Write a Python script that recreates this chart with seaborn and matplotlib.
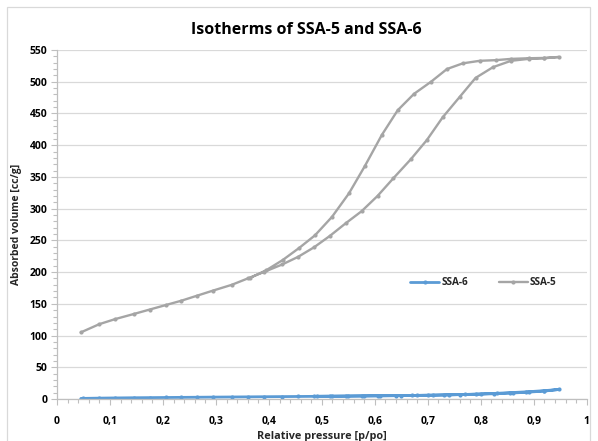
import matplotlib
matplotlib.use("Agg")
import matplotlib.pyplot as plt
from matplotlib.patches import Rectangle
from matplotlib.ticker import MultipleLocator, FuncFormatter
import seaborn as sns
import pandas as pd

# SSA-5: adsorption branch followed by desorption branch
ssa5_ads_p = [0.045, 0.08, 0.11, 0.145, 0.175, 0.205, 0.235, 0.265, 0.295, 0.33,
              0.36, 0.39, 0.425, 0.455, 0.485, 0.515, 0.545, 0.575, 0.605, 0.635,
              0.668, 0.698, 0.728, 0.76, 0.79, 0.823, 0.857, 0.89, 0.92, 0.947]
ssa5_ads_v = [105, 118, 126, 134, 141, 148, 155, 163, 171, 180,
              190, 200, 212, 224, 239, 257, 277, 296, 320, 348,
              378, 408, 444, 476, 506, 523, 533, 536, 537, 539]
ssa5_des_p = [0.92, 0.89, 0.857, 0.828, 0.798, 0.766, 0.736, 0.706, 0.674, 0.643,
              0.613, 0.581, 0.551, 0.519, 0.487, 0.457, 0.426, 0.395, 0.365]
ssa5_des_v = [537.5, 537, 536, 534, 533, 529, 520, 500, 481, 455,
              416, 367, 324, 287, 258, 238, 219, 203, 191]

# SSA-6: adsorption branch followed by desorption branch
ssa6_ads_p = [0.045, 0.05, 0.08, 0.11, 0.145, 0.175, 0.205, 0.235, 0.265, 0.295,
              0.33, 0.36, 0.39, 0.425, 0.455, 0.485, 0.515, 0.545, 0.575, 0.605,
              0.64, 0.67, 0.70, 0.73, 0.76, 0.79, 0.825, 0.855, 0.885, 0.92, 0.947]
ssa6_ads_v = [0.8, 1.0, 1.4, 1.7, 2.0, 2.2, 2.4, 2.6, 2.8, 3.0,
              3.2, 3.4, 3.6, 3.8, 4.0, 4.2, 4.4, 4.6, 4.8, 5.0,
              5.3, 5.6, 6.0, 6.4, 6.9, 7.5, 8.3, 9.3, 10.6, 12.5, 15.0]
ssa6_des_p = [0.92, 0.89, 0.86, 0.83, 0.80, 0.77, 0.74, 0.71, 0.68, 0.65,
              0.61, 0.58, 0.55, 0.52, 0.49]
ssa6_des_v = [13.2, 11.5, 10.2, 9.0, 8.0, 7.2, 6.6, 6.1, 5.7, 5.4,
              5.1, 4.9, 4.7, 4.5, 4.3]

title = "Isotherms of SSA-5 and SSA-6"
x_label = "Relative pressure [p/po]"
y_label = "Absorbed volume [cc/g]"

df5 = pd.DataFrame({"p": ssa5_ads_p + ssa5_des_p, "v": ssa5_ads_v + ssa5_des_v})
df6 = pd.DataFrame({"p": ssa6_ads_p + ssa6_des_p, "v": ssa6_ads_v + ssa6_des_v})

sns.set_theme(style="white")
plt.rcParams["font.family"] = ["Open Sans", "DejaVu Sans"]
plt.rcParams["font.weight"] = "bold"
plt.rcParams["axes.labelweight"] = "bold"

fig = plt.figure(figsize=(5.98, 4.41), dpi=100)
ax = fig.add_axes([0.0953, 0.0952, 0.886, 0.7914])

# chart area border
fig.patches.append(Rectangle((7 / 598, -0.05), 583 / 598, 1.05 - 7 / 441,
                             transform=fig.transFigure, fill=False,
                             edgecolor="#D9D9D9", linewidth=0.9))

blue = "#5B9BD5"
gray = "#A5A5A5"
sns.lineplot(data=df6, x="p", y="v", sort=False, estimator=None, ax=ax,
             color=blue, linewidth=2.0, marker="o", markersize=3,
             markeredgewidth=0, label="SSA-6")
sns.lineplot(data=df5, x="p", y="v", sort=False, estimator=None, ax=ax,
             color=gray, linewidth=1.7, marker="o", markersize=3,
             markeredgewidth=0, label="SSA-5")

ax.set_xlim(0, 1)
ax.set_ylim(0, 550)
ax.xaxis.set_major_locator(MultipleLocator(0.1))
ax.xaxis.set_minor_locator(MultipleLocator(0.02))
ax.yaxis.set_major_locator(MultipleLocator(50))
ax.yaxis.set_minor_locator(MultipleLocator(10))

def comma_fmt(x, pos):
    if abs(x) < 1e-9:
        return "0"
    if abs(x - round(x)) < 1e-9:
        return str(int(round(x)))
    return f"{x:.1f}".replace(".", ",")

ax.xaxis.set_major_formatter(FuncFormatter(comma_fmt))
ax.yaxis.set_major_formatter(FuncFormatter(lambda v, pos: f"{int(v)}"))

ax.grid(axis="y", which="major", color="#D9D9D9", linewidth=0.9)
ax.set_axisbelow(True)
for s in ["top", "right"]:
    ax.spines[s].set_visible(False)
for s in ["left", "bottom"]:
    ax.spines[s].set_color("#BFBFBF")
    ax.spines[s].set_linewidth(0.9)

ax.tick_params(axis="both", which="major", direction="out", length=4,
               width=0.8, color="#BFBFBF", labelsize=7.5, pad=3,
               labelcolor="#000000")
ax.tick_params(axis="both", which="minor", direction="out", length=3,
               width=0.8, color="#BFBFBF")
ax.tick_params(bottom=True, left=True, which="both")
ax.tick_params(axis="x", which="major", pad=8)

ax.set_xlabel(x_label, fontsize=7.8, fontweight="bold", labelpad=3)
ax.set_ylabel(y_label, fontsize=7.5, fontweight="bold", labelpad=5)
fig.text(0.513, 0.932, title, ha="center", va="center",
         fontsize=11.5, fontweight="bold", color="#000000")

leg = ax.legend(loc="center", bbox_to_anchor=(0.805, 0.333), ncol=2,
                frameon=False, fontsize=7.2, handlelength=2.9,
                columnspacing=3.0, handletextpad=0.25)
for t in leg.get_texts():
    t.set_fontweight("bold")

fig.savefig("out.png", dpi=100)
